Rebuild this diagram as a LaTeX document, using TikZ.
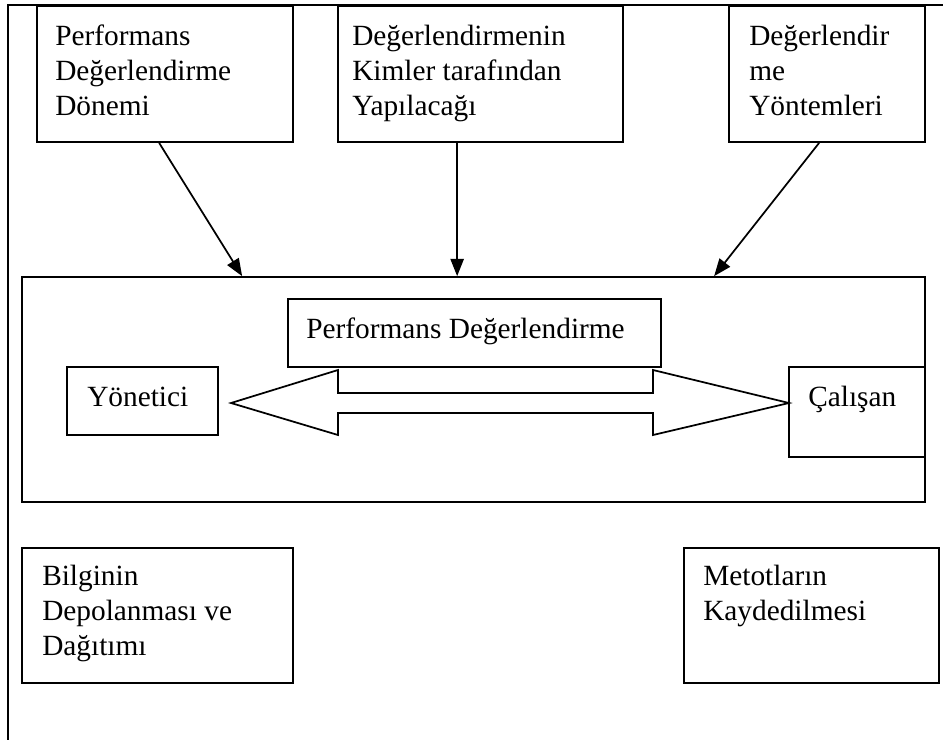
\documentclass[tikz,border=0pt]{standalone}
\usepackage{fontspec}
\setmainfont{Liberation Serif}
\usetikzlibrary{arrows.meta,calc,fit}
\begin{document}
\begin{tikzpicture}[x=0.75pt,y=-0.75pt,
  box/.style={draw,line width=1.3pt,inner sep=0pt},
  txt/.style={anchor=base west,align=left,inner sep=0pt,
              font=\fontsize{22pt}{26.25pt}\selectfont},
  link/.style={line width=1.3pt,-{Triangle[length=13pt,width=10pt]}},
  frame/.style={line width=1.8pt},
  bigarrow/.style={line width=1.3pt,line join=miter}]
\useasboundingbox (0,0) rectangle (943,740);

% outer frame lines
\coordinate (ftl) at (8,5);
\coordinate (ftr) at (943,5);
\coordinate (fbl) at (8,740);
\draw[frame] (ftr) -- (ftl) -- (fbl);

% top boxes (text nodes are placed by the baseline of their last line)
\node[box,fit={(37,6) (293,142)}] (b1) {};
\node[box,fit={(338,6) (623,142)}] (b2) {};
\node[box,fit={(729,6) (925,142)}] (b3) {};
\node[txt] (t1) at (55,115) {Performans\\Değerlendirme\\Dönemi};
\node[txt] (t2) at (352,115) {Değerlendirmenin\\Kimler tarafından\\Yapılacağı};
\node[txt] (t3) at (749,115) {Değerlendir\\me\\Yöntemleri};

% central frame
\node[box,fit={(22,277) (925,502)}] (big) {};
\node[box,fit={(288,299) (661,367)}] (pd) {};
\node[txt] (tpd) at (306,338) {Performans Değerlendirme};
\node[box,fit={(67,367) (218,435)}] (yon) {};
\node[txt] (tyon) at (87,406) {Yönetici};
\node[box,fit={(789,367) (925,457)}] (cal) {};
\node[txt] (tcal) at (808,406) {Çalışan};

% two-headed block arrow
\draw[bigarrow] (231,403) -- (338,370) -- (338,393) -- (653,393) -- (653,370)
  -- (789,403) -- (653,435) -- (653,413) -- (338,413) -- (338,435) -- cycle;

% connectors into the central frame
\draw[link] ($(b1.south west)+(123,0)$) -- ($(big.north west)+(221,0)$);
\draw[link] ($(b2.south west)+(120,0)$) -- ($(big.north west)+(436,0)$);
\draw[link] ($(b3.south west)+(91,0)$) -- ($(big.north west)+(693,0)$);

% bottom boxes
\node[box,fit={(22,548) (293,683)}] (bil) {};
\node[txt] (tbil) at (42,655) {Bilginin\\Depolanması ve\\Dağıtımı};
\node[box,fit={(684,548) (939,683)}] (met) {};
\node[txt] (tmet) at (703,620) {Metotların\\Kaydedilmesi};
\end{tikzpicture}
\end{document}
